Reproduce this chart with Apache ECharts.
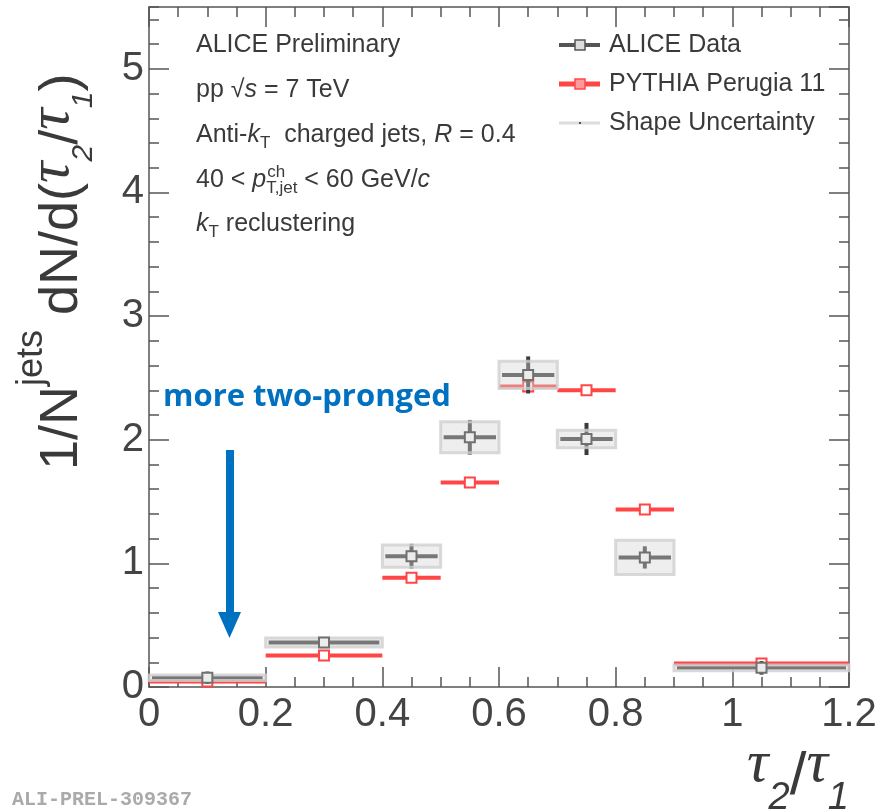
<!DOCTYPE html>
<html>
<head>
<meta charset="utf-8">
<script src="https://cdn.jsdelivr.net/npm/echarts@6/dist/echarts.min.js"></script>
<style>
  html, body { margin: 0; padding: 0; background: #fff; }
  #main { width: 881px; height: 811px; }
</style>
</head>
<body>
<div id="main"></div>
<script>
// histogram bins in tau2/tau1
var binLow = [0, 0.2, 0.4, 0.5, 0.6, 0.7, 0.8, 0.9];
var binHigh = [0.2, 0.4, 0.5, 0.6, 0.7, 0.8, 0.9, 1.2];
var binCenter = [0.1, 0.3, 0.45, 0.55, 0.65, 0.75, 0.85, 1.05];

// ALICE data: value, stat. error, shape uncertainty
var aliceVal = [0.075, 0.36, 1.058, 2.02, 2.524, 2.006, 1.048, 0.155];
var aliceStat = [0.05, 0.04, 0.1, 0.14, 0.15, 0.13, 0.09, 0.055];
var aliceSys = [0.022, 0.036, 0.09, 0.125, 0.11, 0.07, 0.138, 0.023];

// PYTHIA Perugia 11
var pythiaVal = [0.045, 0.255, 0.883, 1.655, 2.43, 2.40, 1.436, 0.19];

var SANS = 'Liberation Sans';
var SERIF = 'Liberation Serif';
var TXT = '#3a3a3a';
var AXIS = '#555';
var RED = '#ff4545';
var BLUE = '#0070c0';

function tok(size, extra) {
  var t = { fontFamily: SANS, fontSize: size, fontStyle: 'normal', fontWeight: 'normal', fill: TXT };
  for (var k in extra) t[k] = extra[k];
  return t;
}

var chart = echarts.init(document.getElementById('main'));

function xAx(pos, showLabel) {
  return {
    type: 'value', position: pos, min: 0, max: 1.2, interval: 0.2,
    axisLine: { show: true, onZero: false, lineStyle: { color: AXIS, width: 1.5 } },
    axisTick: { show: true, inside: true, length: 20, lineStyle: { color: AXIS, width: 1.5 } },
    minorTick: { show: true, splitNumber: 4, length: 10, lineStyle: { color: AXIS, width: 1.5 } },
    axisLabel: { show: showLabel, margin: 8, fontSize: 40, fontFamily: SANS, color: '#444' },
    splitLine: { show: false }
  };
}
function yAx(pos, step, len, showLine, showLabel) {
  return {
    type: 'value', position: pos, min: 0, max: 5.5, interval: step,
    axisLine: { show: showLine, onZero: false, lineStyle: { color: AXIS, width: 1.5 } },
    axisTick: { show: true, inside: true, length: len, lineStyle: { color: AXIS, width: 1.5 } },
    axisLabel: { show: showLabel, showMaxLabel: false, margin: 5, fontSize: 40, fontFamily: SANS, color: '#444' },
    splitLine: { show: false }
  };
}

// ALICE points: error lines, shape box on top (translucent), marker
function aliceItem(params, api) {
  var lo = api.value(0), hi = api.value(1), c = api.value(2);
  var v = api.value(3), st = api.value(4), sy = api.value(5);
  var pL = api.coord([lo, v]), pH = api.coord([hi, v]), pC = api.coord([c, v]);
  var eT = api.coord([c, v + st]), eB = api.coord([c, v - st]);
  var bT = api.coord([lo, v + sy]), bB = api.coord([hi, v - sy]);
  return {
    type: 'group',
    children: [
      { type: 'line', shape: { x1: pL[0] + 3, y1: pL[1], x2: pH[0] - 3, y2: pH[1] }, style: { stroke: '#3a3a3a', lineWidth: 4 } },
      { type: 'line', shape: { x1: eT[0], y1: eT[1], x2: eB[0], y2: eB[1] }, style: { stroke: '#3a3a3a', lineWidth: 4 } },
      { type: 'rect', shape: { x: bT[0], y: bT[1], width: bB[0] - bT[0], height: bB[1] - bT[1] },
        style: { fill: 'rgba(212,212,212,0.4)', stroke: 'rgba(208,208,208,0.8)', lineWidth: 3 } },
      { type: 'rect', shape: { x: pC[0] - 5, y: pC[1] - 5, width: 10, height: 10 },
        style: { fill: '#ececec', stroke: '#707070', lineWidth: 2 } }
    ]
  };
}

function pythiaItem(params, api) {
  var lo = api.value(0), hi = api.value(1), c = api.value(2), v = api.value(3);
  var pL = api.coord([lo, v]), pH = api.coord([hi, v]), pC = api.coord([c, v]);
  return {
    type: 'group',
    children: [
      { type: 'line', shape: { x1: pL[0], y1: pL[1], x2: pH[0], y2: pH[1] }, style: { stroke: RED, lineWidth: 4 } },
      { type: 'rect', shape: { x: pC[0] - 5, y: pC[1] - 5, width: 10, height: 10 },
        style: { fill: '#fff', stroke: RED, lineWidth: 2 } }
    ]
  };
}

var aliceData = binLow.map(function (lo, i) {
  return [lo, binHigh[i], binCenter[i], aliceVal[i], aliceStat[i], aliceSys[i]];
});
var pythiaData = binLow.map(function (lo, i) {
  return [lo, binHigh[i], binCenter[i], pythiaVal[i]];
});

// measure where the p ends so the "ch" superscript can sit over the subscript
var ctx = document.createElement('canvas').getContext('2d');
ctx.font = '25px "Liberation Sans"';
var w40 = ctx.measureText('40 < ').width;
ctx.font = 'italic 25px "Liberation Sans"';
var wp = ctx.measureText('p').width;

var richMain = {
  i: tok(25, { fontStyle: 'italic' }),
  sub: tok(17, { padding: [17, 0, 0, 0] }),
  r: tok(25)
};

var leftX = 196;
var graphics = [
  { type: 'text', x: leftX, y: 45, style: { text: 'ALICE Preliminary', fontFamily: SANS, fontSize: 25, fill: TXT, verticalAlign: 'middle' } },
  { type: 'text', x: leftX, y: 90, style: { text: '{r|pp √}{i|s}{r| = 7 TeV}', rich: richMain, verticalAlign: 'middle' } },
  { type: 'text', x: leftX, y: 135, style: { text: '{r|Anti-}{i|k}{sub|T}{r|  charged jets, }{i|R}{r| = 0.4}', rich: richMain, verticalAlign: 'middle' } },
  { type: 'text', x: leftX, y: 180, style: { text: '{r|40 < }{i|p}{sub|T,jet}{r| < 60 GeV/}{i|c}', rich: richMain, verticalAlign: 'middle' } },
  { type: 'text', x: leftX + w40 + wp + 1, y: 172, style: { text: 'ch', fontFamily: SANS, fontSize: 17, fill: TXT, verticalAlign: 'middle' } },
  { type: 'text', x: leftX, y: 224, style: { text: '{i|k}{sub|T}{r| reclustering}', rich: richMain, verticalAlign: 'middle' } },

  // legend
  { type: 'line', shape: { x1: 559, y1: 45, x2: 600, y2: 45 }, style: { stroke: '#555', lineWidth: 4 } },
  { type: 'rect', shape: { x: 575, y: 40, width: 10, height: 10 }, style: { fill: '#ddd', stroke: '#555', lineWidth: 1.5 } },
  { type: 'text', x: 609, y: 45, style: { text: 'ALICE Data', fontFamily: SANS, fontSize: 25, fill: TXT, verticalAlign: 'middle' } },
  { type: 'line', shape: { x1: 559, y1: 84, x2: 600, y2: 84 }, style: { stroke: RED, lineWidth: 5 } },
  { type: 'rect', shape: { x: 575, y: 79, width: 10, height: 10 }, style: { fill: '#ff9a9a', stroke: RED, lineWidth: 1.5 } },
  { type: 'text', x: 609, y: 84, style: { text: 'PYTHIA Perugia 11', fontFamily: SANS, fontSize: 25, fill: TXT, verticalAlign: 'middle' } },
  { type: 'line', shape: { x1: 559, y1: 123, x2: 600, y2: 123 }, style: { stroke: '#dcdcdc', lineWidth: 3 } },
  { type: 'rect', shape: { x: 579, y: 122, width: 2, height: 2 }, style: { fill: '#555' } },
  { type: 'text', x: 609, y: 123, style: { text: 'Shape Uncertainty', fontFamily: SANS, fontSize: 25, fill: TXT, verticalAlign: 'middle' } },

  // annotation
  { type: 'text', x: 163, y: 397, style: { text: 'more two-pronged', fontFamily: 'Open Sans', fontWeight: 'bold', fontSize: 31, fill: BLUE, verticalAlign: 'middle' } },
  { type: 'rect', shape: { x: 226, y: 450, width: 8, height: 166 }, style: { fill: BLUE } },
  { type: 'polygon', shape: { points: [[218, 612], [241, 612], [229.5, 638]] }, style: { fill: BLUE } },

  // y axis title
  { type: 'text', x: 62, y: 470, rotation: Math.PI / 2,
    style: {
      text: '{m|1/N}{sup|jets}{m| dN/d(}{t|τ}{sub|2}{m|/}{t|τ}{sub|1}{m|)}',
      align: 'left', verticalAlign: 'middle',
      rich: {
        m: tok(54),
        sup: tok(36, { padding: [0, 0, 60, 0] }),
        t: tok(60, { fontFamily: SERIF, fontStyle: 'italic', padding: [0, 0, 20, 0] }),
        sub: tok(30, { fontStyle: 'italic', padding: [44, 0, 0, 0] })
      }
    } },

  // x axis title
  { type: 'text', x: 849, y: 777,
    style: {
      text: '{t|τ}{sub|2}{m|/}{t|τ}{sub|1}',
      align: 'right', verticalAlign: 'middle',
      rich: {
        m: tok(60),
        t: tok(60, { fontFamily: SERIF, fontStyle: 'italic', padding: [0, 0, 24, 0] }),
        sub: tok(38, { fontStyle: 'italic', padding: [42, 0, 0, 0] })
      }
    } },

  // figure id
  { type: 'text', x: 12, y: 800, style: { text: 'ALI-PREL-309367', fontFamily: 'Liberation Mono', fontWeight: 'bold', fontSize: 20, fill: '#aaa', verticalAlign: 'middle' } }
];

chart.setOption({
  animation: false,
  backgroundColor: '#fff',
  grid: { left: 149, right: 32, top: 7, bottom: 124, outerBoundsMode: 'none' },
  xAxis: [xAx('bottom', true), xAx('top', false)],
  yAxis: [
    yAx('left', 1, 20, true, true),
    yAx('left', 0.2, 10, false, false),
    yAx('right', 1, 20, true, false),
    yAx('right', 0.2, 10, false, false)
  ],
  series: [
    { name: 'PYTHIA Perugia 11', type: 'custom', silent: true, z: 2, renderItem: pythiaItem, data: pythiaData, encode: { x: 2, y: 3 } },
    { name: 'ALICE Data', type: 'custom', silent: true, z: 3, renderItem: aliceItem, data: aliceData, encode: { x: 2, y: 3 } }
  ],
  graphic: graphics
});

window.addEventListener('resize', function () { chart.resize(); });
</script>
</body>
</html>
